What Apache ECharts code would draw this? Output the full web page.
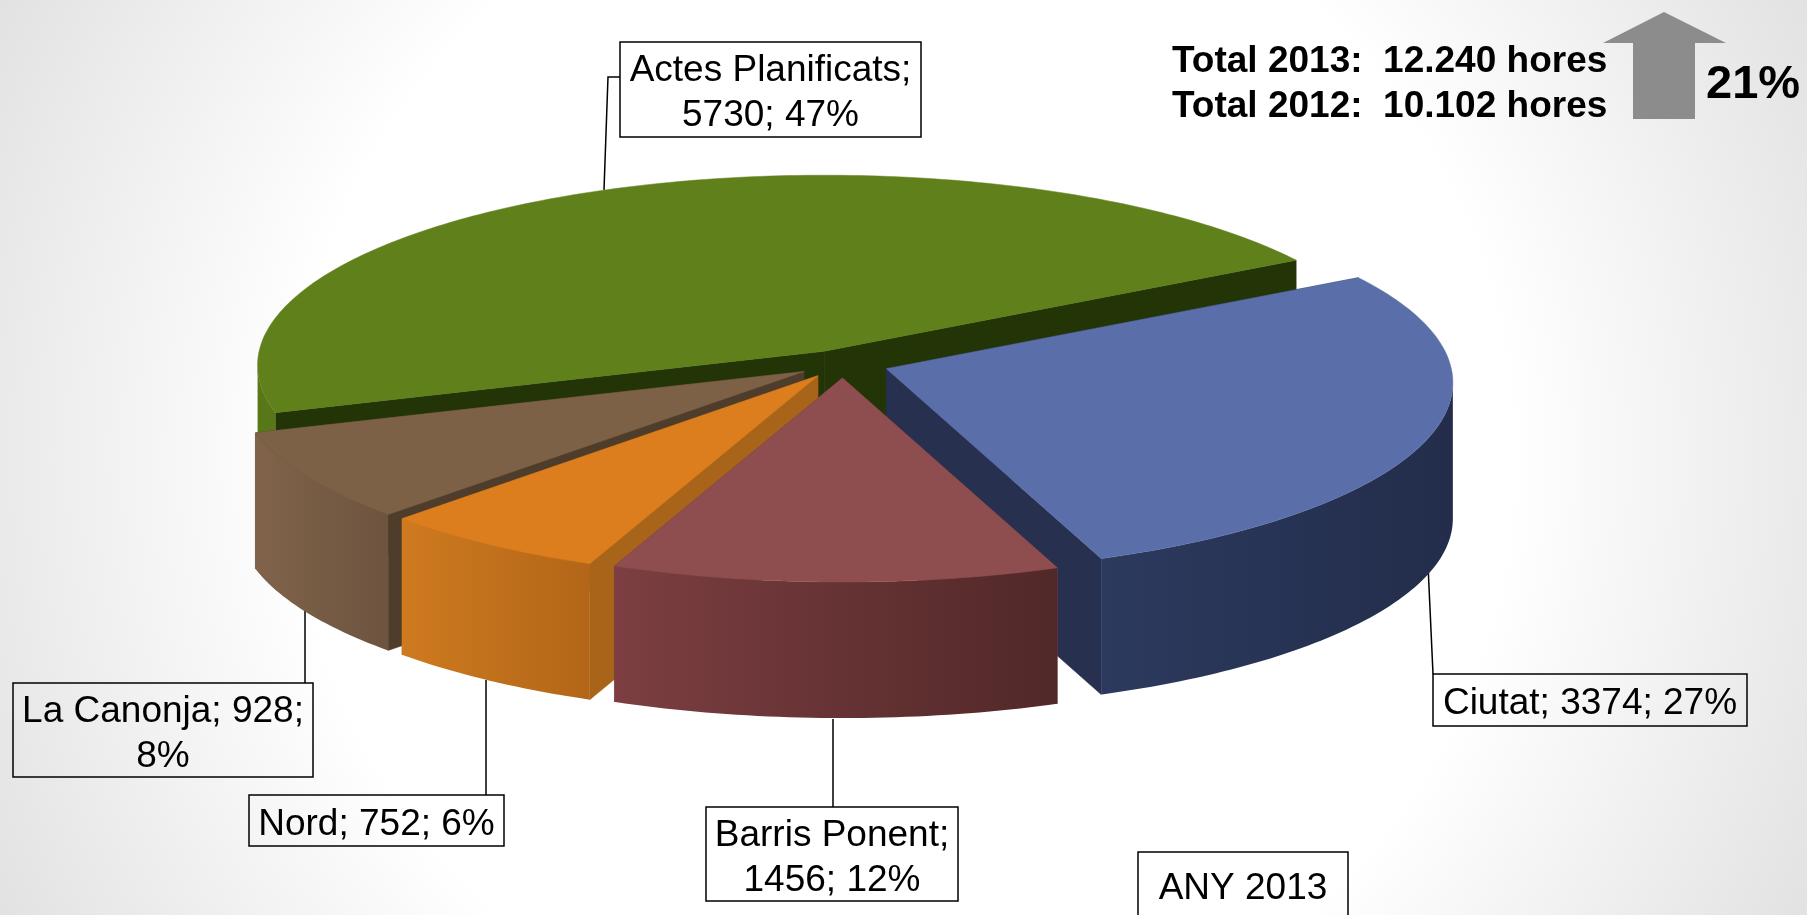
<!DOCTYPE html>
<html><head><meta charset="utf-8">
<style>html,body{margin:0;padding:0;width:100%;height:100%;overflow:hidden}#c{width:1807px;height:915px}</style>
<script src="https://cdn.jsdelivr.net/npm/echarts@6/dist/echarts.min.js"></script>
</head><body><div id="c"></div>
<script>
// Data
const categories = ['Actes Planificats', 'Ciutat', 'Barris Ponent', 'Nord', 'La Canonja'];
const hours = [5730, 3374, 1456, 752, 928];
const percents = [47, 27, 12, 6, 8];
const labelBreaks = ['Actes Planificats;\n5730; 47%', 'Ciutat; 3374; 27%', 'Barris Ponent;\n1456; 12%', 'Nord; 752; 6%', 'La Canonja; 928;\n8%'];
const totalsText = ['Total 2013:  12.240 hores', 'Total 2012:  10.102 hores'];
const growthText = '21%';
const yearText = 'ANY 2013';

// Styles
const topColors = ['#5F801A', '#5A6EAA', '#8E4D4F', '#DC7D1E', '#7D6146'];
const cutColors = ['#233507', '#27304F', '#7A3D40', '#A8651A', '#4F3D2B'];
const wallColors = [['#587718', '#587718'], ['#2C3A5E', '#232D4B'], ['#7C3E41', '#512828'], ['#CE7A1F', '#B36618'], ['#80634A', '#6D543F']];

// 3D pie projection
const pie = {cx: 843, cy: 364, a: 565, b: 189, k: 0.0737, depth: 136, startAngle: 198.5, explodeX: 46, explodeY: 14};
const drawOrder = [0, 1, 4, 3, 2];

// Label boxes: [x0, y0, x1, y1], and leader polyline
const boxes = [[620, 42, 921, 137], [1433, 674, 1747, 726], [706, 807, 958, 901], [249, 795, 504, 846], [13, 683, 313, 777]];
const leaders = [
  [[620, 77], [608, 77], [604, 190]],
  [[1428, 565], [1433, 674]],
  [[833, 719], [833, 807]],
  [[486, 680], [486, 795]],
  [[305, 608], [305, 683]]
];
const fontFamily = '"Liberation Sans", Arial, sans-serif';

const total = hours.reduce((s, v) => s + v, 0);
function sliceAngles() {
  let cur = pie.startAngle;
  return hours.map(v => { const sweep = v / total * 360; const r = [cur, cur - sweep]; cur -= sweep; return r; });
}
const angles = sliceAngles();

function proj(deg) {
  const t = deg * Math.PI / 180, u = Math.cos(t), v = Math.sin(t), s = 1 / (1 + pie.k * v);
  return [pie.a * u * s, -pie.b * v * s];
}

function renderSlice(params, api) {
  const i = api.value(0);
  const a0 = api.value(1), a1 = api.value(2);
  const mid = (a0 + a1) / 2 * Math.PI / 180;
  const ox = pie.cx + pie.explodeX * Math.cos(mid), oy = pie.cy - pie.explodeY * Math.sin(mid);
  const apex = [ox, oy];
  const sweepAngles = [a0];
  for (let d = Math.floor(a0); d > a1; d--) { if (d < a0) sweepAngles.push(d); }
  sweepAngles.push(a1);
  const place = d => { const p = proj(d); return [ox + p[0], oy + p[1]]; };
  const arc = sweepAngles.map(place);
  // the outer wall starts where the projected rim has its vertical tangent (sin = -k)
  const frontArc = sweepAngles.filter(d => Math.sin(d * Math.PI / 180) <= -pie.k + 0.005).map(place);
  const down = p => [p[0], p[1] + pie.depth];
  const first = arc[0], last = arc[arc.length - 1];
  const children = [];
  const cut = pts => ({type: 'polygon', shape: {points: pts}, style: {fill: cutColors[i], stroke: cutColors[i], lineWidth: 0.5}});
  children.push(cut([apex, first, down(first), down(apex)]));
  children.push(cut([apex, last, down(last), down(apex)]));
  if (frontArc.length > 1) {
    children.push({type: 'polygon', shape: {points: frontArc.concat(frontArc.slice().reverse().map(down))},
      style: {fill: {type: 'linear', x: 0, y: 0, x2: 1, y2: 0, colorStops: [{offset: 0, color: wallColors[i][0]}, {offset: 1, color: wallColors[i][1]}]}}});
  }
  children.push({type: 'polygon', shape: {points: [apex].concat(arc)}, style: {fill: topColors[i], stroke: topColors[i], lineWidth: 0.5}});
  return {type: 'group', children};
}

function renderLabel(params, api) {
  const i = api.value(0);
  const b = boxes[i];
  return {type: 'group', children: [
    {type: 'polyline', shape: {points: leaders[i]}, style: {stroke: '#000', lineWidth: 1.5, fill: null}},
    {type: 'rect', shape: {x: b[0], y: b[1], width: b[2] - b[0], height: b[3] - b[1]}, style: {stroke: '#000', lineWidth: 1.5, fill: null}},
    {type: 'text', style: {x: (b[0] + b[2]) / 2, y: (b[1] + b[3]) / 2 + 4, text: labelBreaks[i], font: '37px ' + fontFamily, lineHeight: 45, align: 'center', verticalAlign: 'middle', fill: '#000'}}
  ]};
}

const chart = echarts.init(document.getElementById('c'), null, {renderer: 'canvas'});
chart.setOption({
  animation: false,
  backgroundColor: {type: 'radial', x: 0.5, y: 0.5, r: 1.106, colorStops: [{offset: 0, color: '#FFFFFF'}, {offset: 0.6, color: '#FFFFFF'}, {offset: 1, color: '#E2E2E2'}]},
  series: [
    {type: 'custom', coordinateSystem: 'none', silent: true, z: 2, renderItem: renderLabel, data: categories.map((c, i) => ({name: c, value: [i, percents[i]]}))},
    {type: 'custom', coordinateSystem: 'none', silent: true, z: 3, renderItem: renderSlice, clip: false,
      data: drawOrder.map(i => ({name: categories[i], value: [i, angles[i][0], angles[i][1], hours[i]]}))}
  ],
  graphic: [
    {type: 'polygon', silent: true, shape: {points: [[1664, 12], [1726, 43], [1695, 43], [1695, 119], [1633, 119], [1633, 43], [1603, 43]]}, style: {fill: '#8C8C8C'}},
    {type: 'text', silent: true, style: {x: 1172, y: 62, text: totalsText[0], font: 'bold 37px ' + fontFamily, verticalAlign: 'middle', fill: '#000'}},
    {type: 'text', silent: true, style: {x: 1172, y: 107, text: totalsText[1], font: 'bold 37px ' + fontFamily, verticalAlign: 'middle', fill: '#000'}},
    {type: 'text', silent: true, style: {x: 1706, y: 85, text: growthText, font: 'bold 47px ' + fontFamily, verticalAlign: 'middle', fill: '#000'}},
    {type: 'rect', silent: true, shape: {x: 1138, y: 852, width: 210, height: 70}, style: {stroke: '#000', lineWidth: 1.5, fill: null}},
    {type: 'text', silent: true, style: {x: 1243, y: 889, text: yearText, font: '37px ' + fontFamily, align: 'center', verticalAlign: 'middle', fill: '#000'}}
  ]
});
</script></body></html>
